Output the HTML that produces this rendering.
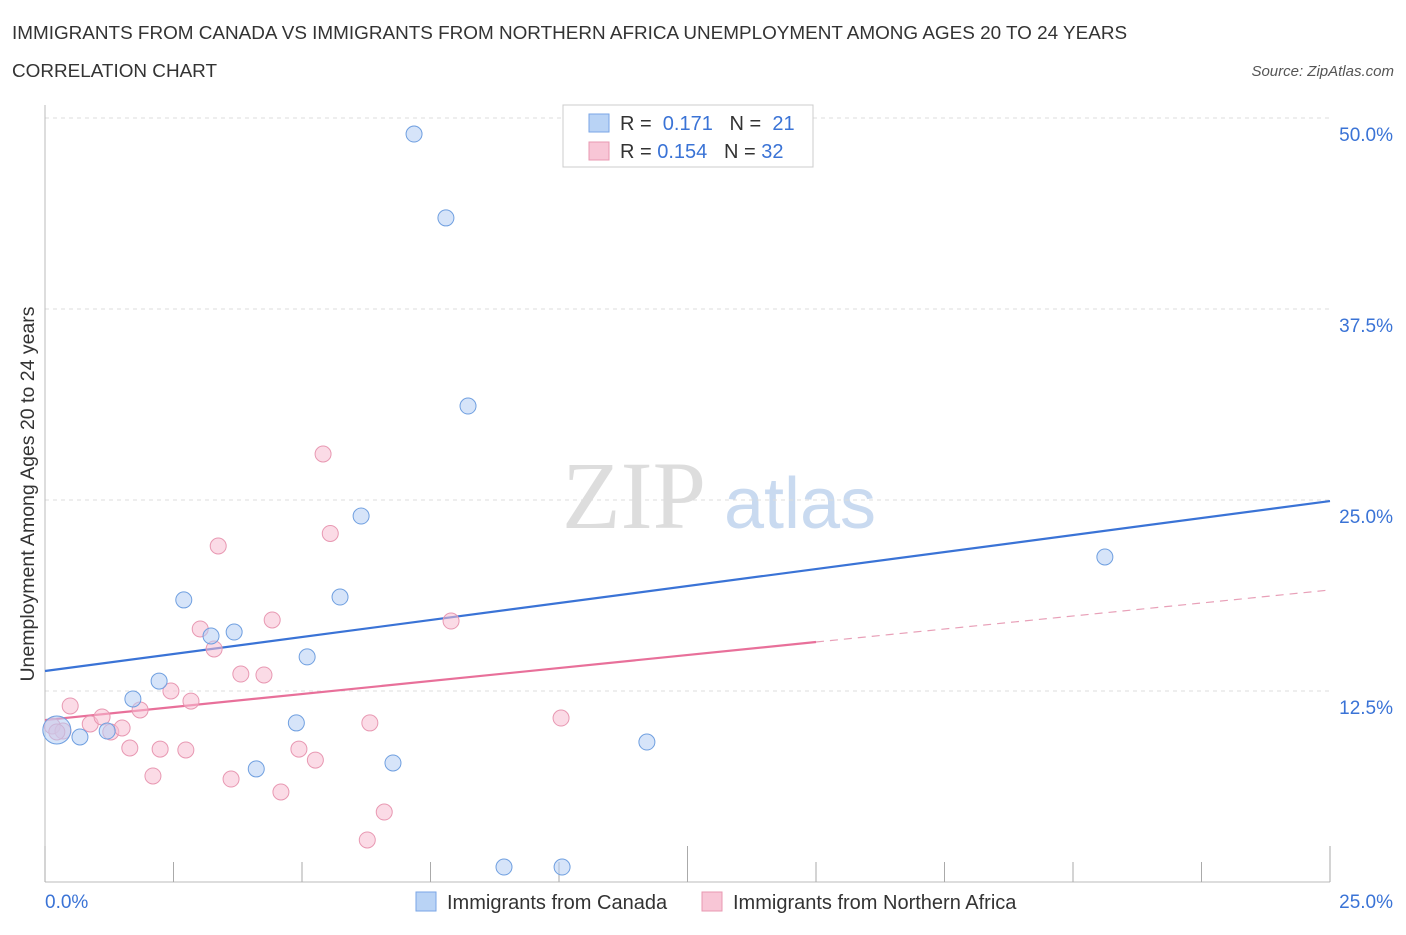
<!DOCTYPE html>
<html><head><meta charset="utf-8"><style>
body{margin:0;background:#fff;font-family:"Liberation Sans",sans-serif;}
</style></head><body>
<svg id="chart" width="1406" height="930" xmlns="http://www.w3.org/2000/svg">
<text x="12" y="39" font-size="18.9" fill="#333">IMMIGRANTS FROM CANADA VS IMMIGRANTS FROM NORTHERN AFRICA UNEMPLOYMENT AMONG AGES 20 TO 24 YEARS</text>
<text x="12" y="77" font-size="18.9" fill="#333">CORRELATION CHART</text>
<text x="1394" y="76" font-size="15" fill="#555" font-style="italic" text-anchor="end">Source: ZipAtlas.com</text>
<text x="634" y="528" font-size="96" fill="#ddd" font-family="Liberation Serif,serif" text-anchor="middle">ZIP</text>
<text x="800" y="528" font-size="72" fill="#c9daf0" text-anchor="middle">atlas</text>
<text transform="translate(34,494) rotate(-90)" font-size="19.5" fill="#333" text-anchor="middle">Unemployment Among Ages 20 to 24 years</text>
<g id="grid"></g><g id="ticks"></g><g id="lines"></g><g id="pts"></g>
<g>
<rect x="563" y="105" width="250" height="62" fill="#fff" stroke="#ccc"/>
<rect x="589" y="114" width="20" height="18" fill="#b9d3f5" stroke="#7aa6e6"/>
<rect x="589" y="142" width="20" height="18" fill="#f8c6d6" stroke="#e898b2"/>
<text x="620" y="130" font-size="20" fill="#333">R = <tspan fill="#3a73d6">&#160;0.171</tspan>&#160;&#160;&#160;N = <tspan fill="#3a73d6">&#160;21</tspan></text>
<text x="620" y="158" font-size="20" fill="#333">R = <tspan fill="#3a73d6">0.154</tspan>&#160;&#160;&#160;N = <tspan fill="#3a73d6">32</tspan></text>
</g>
<g>
<rect x="416" y="892" width="20" height="19" fill="#b9d3f5" stroke="#7aa6e6"/>
<text x="447" y="909" font-size="20" fill="#333">Immigrants from Canada</text>
<rect x="702" y="892" width="20" height="19" fill="#f8c6d6" stroke="#e898b2"/>
<text x="733" y="909" font-size="20" fill="#333">Immigrants from Northern Africa</text>
</g>
<text x="45" y="908" font-size="19" fill="#3a73d6">0.0%</text>
<text x="1393" y="908" font-size="19" fill="#3a73d6" text-anchor="end">25.0%</text>
</svg>
<script>
const yTicks=[12.5,25,37.5,50];
const yTickLabels=["12.5%","25.0%","37.5%","50.0%"];
const canadaX=[0.23,0.68,1.21,1.71,2.22,2.70,3.23,3.68,4.11,4.89,5.10,5.74,6.15,6.77,7.18,7.80,8.23,8.93,10.06,11.71,20.62];
const canadaY=[9.95,9.49,9.88,11.98,13.15,18.46,16.10,16.36,7.40,10.41,14.73,18.65,23.95,7.79,48.95,43.46,31.15,0.98,0.98,9.16,21.27];
const africaX=[0.14,0.35,0.23,0.49,0.88,1.11,1.28,1.50,1.65,1.85,2.10,2.24,2.45,2.74,2.84,3.02,3.29,3.37,3.62,3.81,4.26,4.42,4.59,4.94,5.26,5.41,5.55,6.27,6.32,6.60,7.90,10.04];
const africaY=[10.21,9.88,9.82,11.52,10.34,10.80,9.82,10.08,8.77,11.26,6.94,8.70,12.50,8.64,11.84,16.56,15.25,21.99,6.74,13.61,13.55,17.15,5.89,8.70,7.98,28.01,22.81,2.75,10.41,4.58,17.08,10.73];
const blueLine=[13.81,24.93];
const pinkLine=[10.60,19.11];
const NS="http://www.w3.org/2000/svg";
const X=v=>45+v*(1285/25), Y=v=>882-v*15.28;
function mk(t,a,p){const e=document.createElementNS(NS,t);for(const k in a)e.setAttribute(k,a[k]);document.getElementById(p).appendChild(e);return e;}
yTicks.forEach((t,i)=>{
 const l=mk('line',{x1:45,x2:1330,y1:Y(t),y2:Y(t),stroke:'#ddd','stroke-dasharray':'4,4'},'grid');
 
 
 const tx=mk('text',{x:1393,y:Y(t)+23,'font-size':19,fill:'#3a73d6','text-anchor':'end'},'grid');
 tx.textContent=yTickLabels[i];
 
 
});
const ax=mk('line',{x1:45,x2:45,y1:105,y2:882,stroke:'#bbb'},'ticks');


const bx=mk('line',{x1:45,x2:1330,y1:882,y2:882,stroke:'#bbb'},'ticks');


for(let i=0;i<=10;i++){const v=i*2.5;const t=mk('line',{x1:X(v),x2:X(v),y1:882,y2:(i%5==0?846:862),stroke:'#aaa'},'ticks');
 
 }
const bl=mk('line',{x1:X(0),y1:Y(blueLine[0]),x2:X(25),y2:Y(blueLine[1]),stroke:'#3a73d6','stroke-width':2.2},'lines');


const cut=15;const pm=pinkLine[0]+(pinkLine[1]-pinkLine[0])*cut/25;
const pl=mk('line',{x1:X(0),y1:Y(pinkLine[0]),x2:X(cut),y2:Y(pm),stroke:'#e8709a','stroke-width':2.2},'lines');


const pd=mk('line',{x1:X(cut),y1:Y(pm),x2:X(25),y2:Y(pinkLine[1]),stroke:'#e8a0b8','stroke-width':1.2,'stroke-dasharray':'8,6'},'lines');


africaX.forEach((x,i)=>{const c=mk('circle',{cx:X(x),cy:Y(africaY[i]),r:8,fill:'rgba(248,190,210,0.55)',stroke:'#e898b2'},'pts');
 
 });
canadaX.forEach((x,i)=>{const c=mk('circle',{cx:X(x),cy:Y(canadaY[i]),r:i==0?14:8,fill:'rgba(180,206,244,0.55)',stroke:'#6f9fe0'},'pts');
 
 });
</script>
</body></html>
